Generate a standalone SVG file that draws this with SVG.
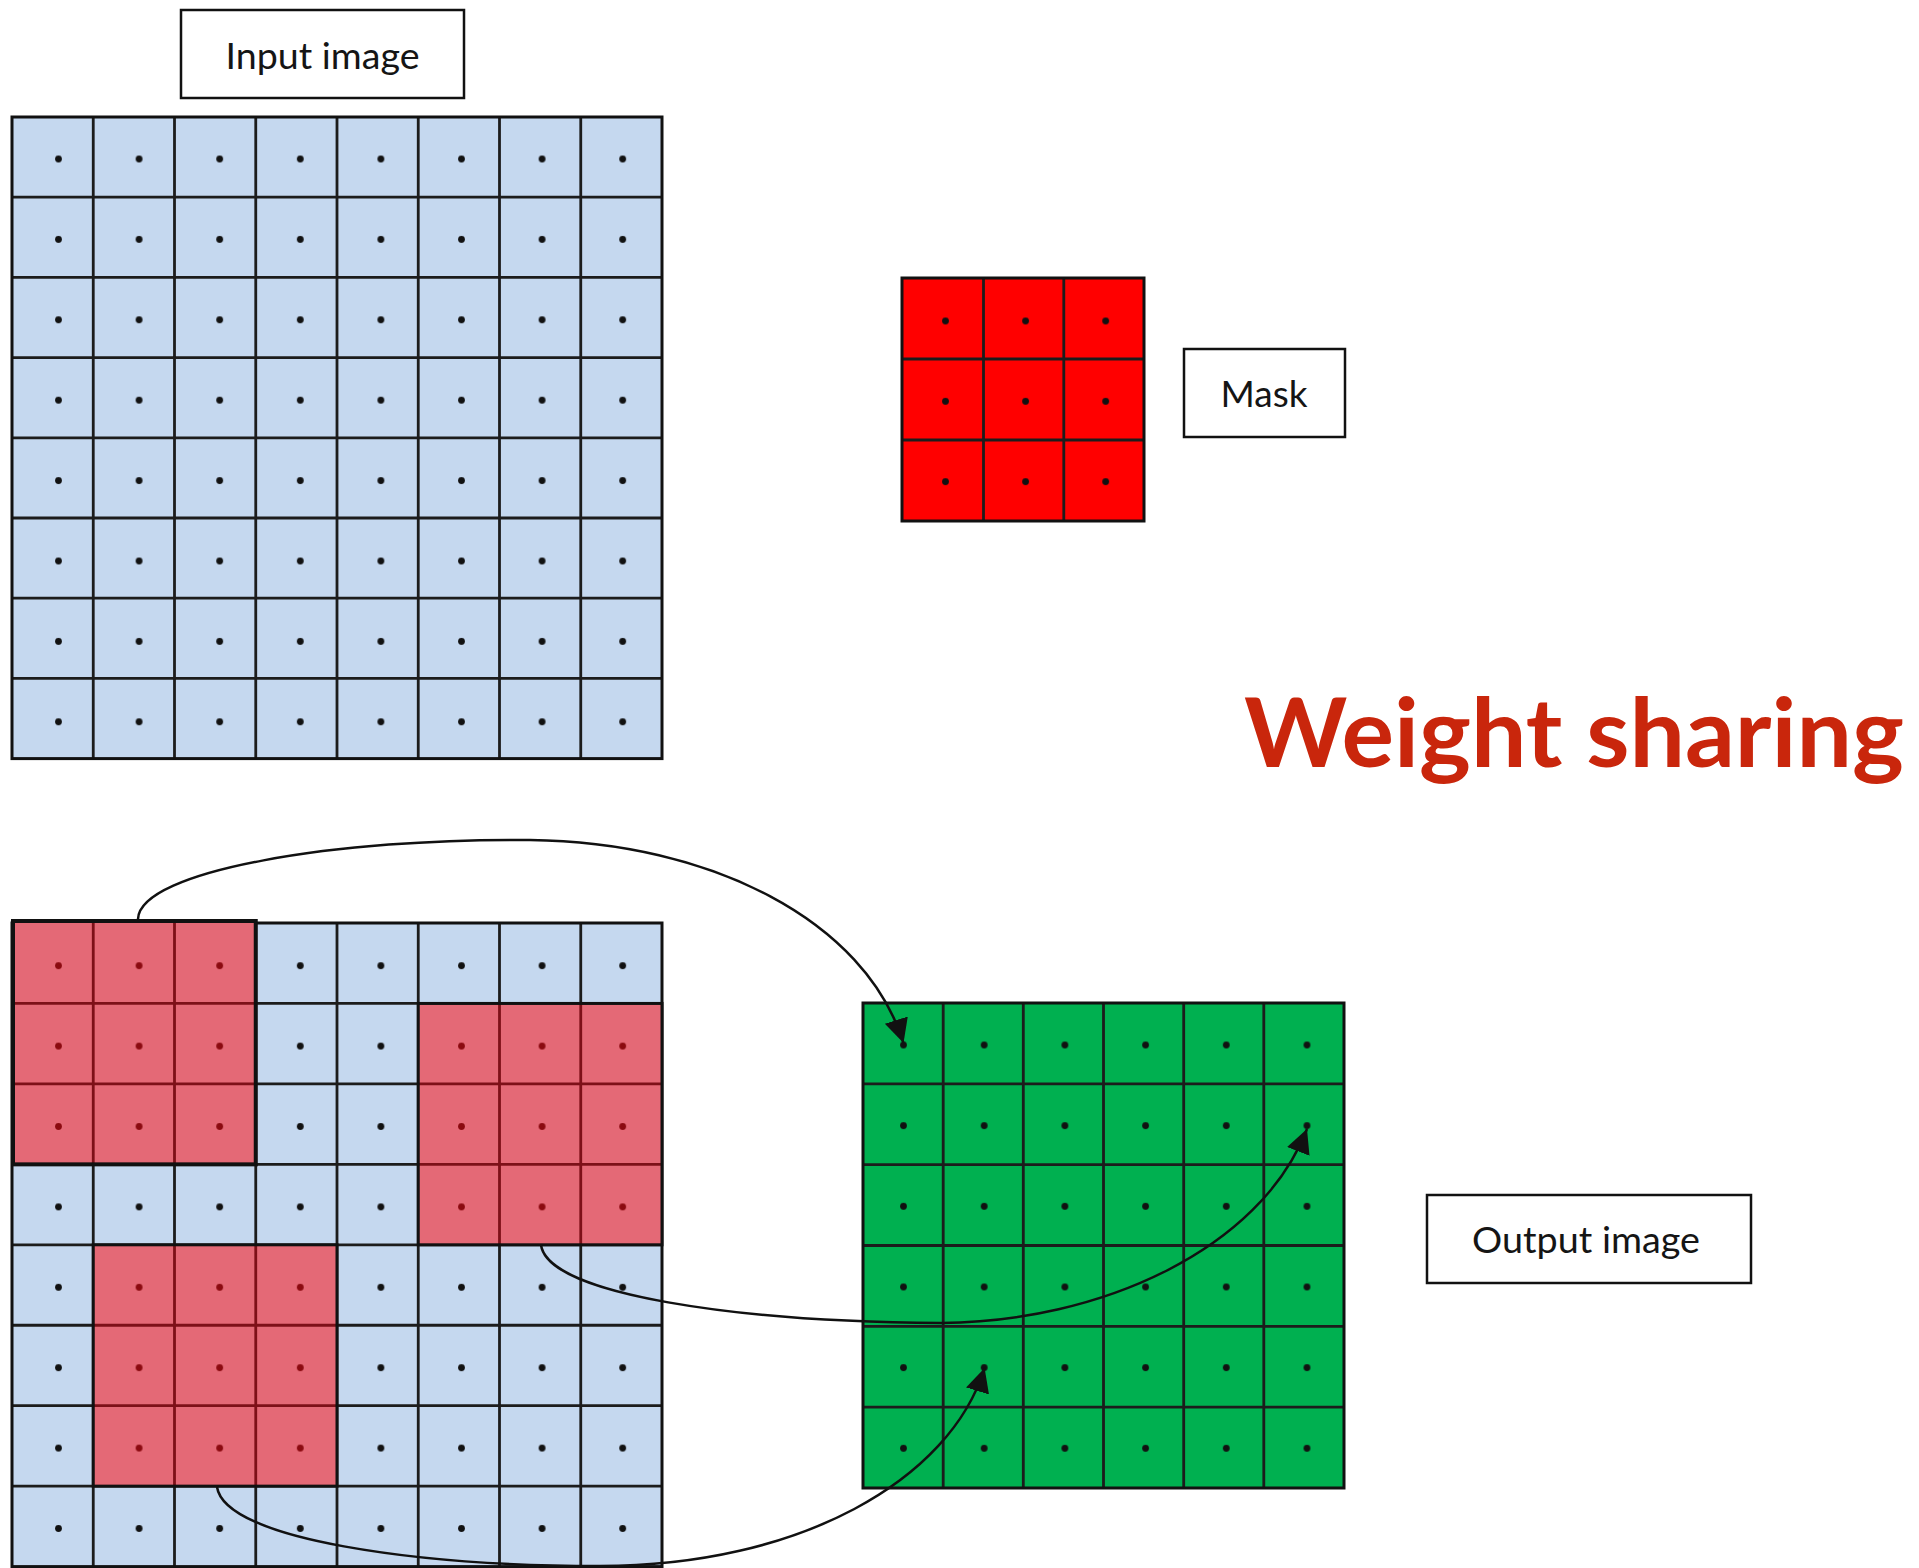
<svg xmlns="http://www.w3.org/2000/svg" width="1919" height="1568" viewBox="0 0 1919 1568">
<style>
.lbl{fill:#fff;stroke:#111;stroke-width:2.5}
.lt{font-family:Lato,"Open Sans","Liberation Sans",sans-serif;font-size:37px;fill:#151515;text-anchor:middle}
.gl{fill:none;stroke:#1c1c1c;stroke-width:2.8}
.rl{fill:none;stroke:#7d1018;stroke-width:2.8}
.ob{fill:none;stroke:#111;stroke-width:3}
.conn{fill:none;stroke:#111;stroke-width:2.5}
</style>
<defs>
<pattern id="dTop" patternUnits="userSpaceOnUse" x="18.2" y="118.8" width="80.6" height="80.4"><circle cx="40.3" cy="40.2" r="3.4" fill="#111"/></pattern>
<pattern id="dBot" patternUnits="userSpaceOnUse" x="18.2" y="925.5" width="80.6" height="80.4"><circle cx="40.3" cy="40.2" r="3.4" fill="#111"/></pattern>
<pattern id="dBotR" patternUnits="userSpaceOnUse" x="18.2" y="925.5" width="80.6" height="80.4"><circle cx="40.3" cy="40.2" r="3.4" fill="#8b0a10"/></pattern>
<pattern id="dMask" patternUnits="userSpaceOnUse" x="905.45" y="280.8" width="80.1" height="80.35"><circle cx="40.05" cy="40.2" r="3.4" fill="#111"/></pattern>
<pattern id="dGreen" patternUnits="userSpaceOnUse" x="863.15" y="1004.67" width="80.7" height="80.66"><circle cx="40.35" cy="40.33" r="3.4" fill="#111"/></pattern>
<marker id="arr" markerUnits="userSpaceOnUse" markerWidth="26" markerHeight="26" refX="24" refY="12" orient="auto" viewBox="0 0 26 26"><path d="M0,0 L24,12 L0,24 z" fill="#111"/></marker>
</defs>
<rect width="1919" height="1568" fill="#fff"/>

<g id="input-label">
<rect class="lbl" x="181" y="10" width="283" height="88"/>
<text class="lt" x="322.5" y="69" textLength="194" lengthAdjust="spacingAndGlyphs">Input image</text>
</g>

<g id="input-grid">
<rect x="12" y="117" width="650" height="641.6" fill="#c5d8ef"/>
<rect x="12" y="117" width="650" height="641.6" fill="url(#dTop)"/>
<path class="gl" d="M93.25,117V758.6M174.5,117V758.6M255.75,117V758.6M337,117V758.6M418.25,117V758.6M499.5,117V758.6M580.75,117V758.6M12,197.2H662M12,277.4H662M12,357.6H662M12,437.8H662M12,518H662M12,598.2H662M12,678.4H662"/>
<rect class="ob" x="12" y="117" width="650" height="641.6"/>
</g>

<g id="mask-grid">
<rect x="902" y="278" width="242" height="243" fill="#ff0000"/>
<rect x="902" y="278" width="242" height="243" fill="url(#dMask)"/>
<path class="gl" d="M983.5,278V521M1063.8,278V521M902,359H1144M902,440H1144"/>
<rect class="ob" x="902" y="278" width="242" height="243"/>
</g>

<g id="mask-label">
<rect class="lbl" x="1184" y="349" width="161" height="88"/>
<text class="lt" x="1264" y="407" textLength="87" lengthAdjust="spacingAndGlyphs">Mask</text>
</g>

<g id="title">
<text x="1244" y="767" textLength="660" lengthAdjust="spacingAndGlyphs" style="font-family:Lato,'Open Sans','DejaVu Sans',sans-serif;font-weight:bold;font-size:95px;fill:#c9260c">Weight sharing</text>
</g>

<g id="conv-grid">
<rect x="12" y="923" width="650" height="643.6" fill="#c5d8ef"/>
<rect x="12" y="923" width="650" height="643.6" fill="url(#dBot)"/>
<path class="gl" d="M93.25,923V1566.6M174.5,923V1566.6M255.75,923V1566.6M337,923V1566.6M418.25,923V1566.6M499.5,923V1566.6M580.75,923V1566.6M12,1003.45H662M12,1083.9H662M12,1164.35H662M12,1244.8H662M12,1325.25H662M12,1405.7H662M12,1486.15H662"/>
<rect class="ob" x="12" y="923" width="650" height="643.6"/>
<g id="window-a">
<rect x="12" y="923" width="243.75" height="241.35" fill="#e46976"/>
<rect x="12" y="923" width="243.75" height="241.35" fill="url(#dBotR)"/>
<path class="rl" d="M93.25,923V1164.35M174.5,923V1164.35M12,1003.45H255.75M12,1083.9H255.75"/>
<rect x="13" y="921" width="242.75" height="243.35" fill="none" stroke="#111" stroke-width="4"/>
</g>
<g id="window-b">
<rect x="418.25" y="1003.45" width="243.75" height="241.35" fill="#e46976"/>
<rect x="418.25" y="1003.45" width="243.75" height="241.35" fill="url(#dBotR)"/>
<path class="rl" d="M499.5,1003.45V1244.8M580.75,1003.45V1244.8M418.25,1083.9H662M418.25,1164.35H662"/>
<rect class="ob" x="418.25" y="1003.45" width="243.75" height="241.35"/>
</g>
<g id="window-c">
<rect x="93.25" y="1244.8" width="243.75" height="241.35" fill="#e46976"/>
<rect x="93.25" y="1244.8" width="243.75" height="241.35" fill="url(#dBotR)"/>
<path class="rl" d="M174.5,1244.8V1486.15M255.75,1244.8V1486.15M93.25,1325.25H337M93.25,1405.7H337"/>
<rect class="ob" x="93.25" y="1244.8" width="243.75" height="241.35"/>
</g>
</g>

<g id="output-grid">
<rect x="863" y="1003" width="481" height="485" fill="#00b050"/>
<rect x="863" y="1003" width="481" height="485" fill="url(#dGreen)"/>
<path class="gl" d="M943.2,1003V1488M1023.3,1003V1488M1103.5,1003V1488M1183.7,1003V1488M1263.8,1003V1488M863,1083.8H1344M863,1164.7H1344M863,1245.5H1344M863,1326.3H1344M863,1407.2H1344"/>
<rect class="ob" x="863" y="1003" width="481" height="485"/>
</g>

<g id="output-label">
<rect class="lbl" x="1427" y="1195" width="324" height="88"/>
<text class="lt" x="1586" y="1253" textLength="228" lengthAdjust="spacingAndGlyphs">Output image</text>
</g>

<g id="connectors">
<path class="conn" marker-end="url(#arr)" d="M138,919 C140,870 340,838 530,840 C710,842 865,920 903.5,1043"/>
<path class="conn" marker-end="url(#arr)" d="M541,1245 C548,1295 740,1322 941,1323 C1100,1322 1260,1250 1307,1129"/>
<path class="conn" marker-end="url(#arr)" d="M217,1487 C225,1540 420,1566 600,1566 C800,1566 950,1480 984.6,1368"/>
</g>
</svg>
